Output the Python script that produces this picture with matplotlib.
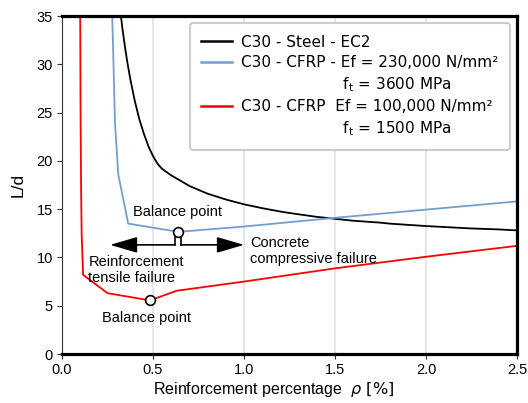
import matplotlib
matplotlib.use("Agg")
import matplotlib.pyplot as plt
from matplotlib.lines import Line2D

# ---- data ----
rho_steel = [0.32, 0.33, 0.34, 0.35, 0.36, 0.375, 0.40, 0.425, 0.45, 0.475, 0.50, 0.525, 0.548,
             0.60, 0.70, 0.80, 0.90, 1.00, 1.10, 1.20, 1.25, 1.40, 1.50, 1.60, 1.75, 1.80,
             2.00, 2.20, 2.25, 2.40, 2.50]
ld_steel = [35.6, 34.0, 32.6, 31.3, 30.1, 28.5, 26.2, 24.3, 22.8, 21.5, 20.5, 19.7, 19.2,
            18.5, 17.4, 16.6, 16.0, 15.5, 15.1, 14.75, 14.6, 14.2, 14.0, 13.8, 13.6, 13.5,
            13.25, 13.05, 13.0, 12.9, 12.8]

rho_cfrp230 = [0.276, 0.283, 0.291, 0.309, 0.364, 0.64, 1.00, 1.50, 2.00, 2.50]
ld_cfrp230 = [35.0, 30.0, 24.0, 18.6, 13.5, 12.65, 13.2, 14.1, 14.95, 15.8]

rho_cfrp100 = [0.100, 0.102, 0.105, 0.108, 0.116, 0.25, 0.484, 0.63, 1.00, 1.50, 2.00, 2.50]
ld_cfrp100 = [35.0, 25.0, 17.0, 12.4, 8.2, 6.3, 5.55, 6.55, 7.5, 8.87, 10.07, 11.2]

balance_rho = [0.64, 0.484]
balance_ld = [12.65, 5.55]

xticks = [0.0, 0.5, 1.0, 1.5, 2.0, 2.5]
yticks = [0, 5, 10, 15, 20, 25, 30, 35]

labels = ["C30 - Steel - EC2",
          "C30 - CFRP - Ef = 230,000 N/mm\u00b2",
          "                     f$_\\mathregular{t}$ = 3600 MPa",
          "C30 - CFRP  Ef = 100,000 N/mm\u00b2",
          "                     f$_\\mathregular{t}$ = 1500 MPa"]

# ---- style ----
plt.rcParams['font.family'] = ['Liberation Sans', 'DejaVu Sans']
plt.rcParams['mathtext.fontset'] = 'dejavusans'

c_black = 'black'
c_blue = '#729fcf'
c_red = '#ff0000'

fig = plt.figure(figsize=(5.28, 4.03), dpi=100)
ax = fig.add_axes([62/528, 1 - 354/403, (517-62)/528, (354-16)/403])

ax.set_xlim(0, 2.5)
ax.set_ylim(0, 35)
ax.set_xticks(xticks)
ax.set_yticks(yticks)
ax.set_xticklabels([f"{v:.1f}" for v in xticks])
ax.set_yticklabels([str(v) for v in yticks])
ax.tick_params(axis='both', labelsize=10.5, length=3.5, width=0.8, color='#333333', pad=3)
ax.xaxis.grid(True, color='#e6e6e6', linewidth=1.5)
ax.set_axisbelow(True)

for s in ['top', 'right', 'bottom']:
    ax.spines[s].set_linewidth(2.3)
    ax.spines[s].set_color('black')
ax.spines['left'].set_linewidth(0.8)
ax.spines['left'].set_color('#333333')

ax.plot(rho_steel, ld_steel, color=c_black, lw=1.3)
ax.plot(rho_cfrp230, ld_cfrp230, color=c_blue, lw=1.3)
ax.plot(rho_cfrp100, ld_cfrp100, color=c_red, lw=1.3)

ax.plot(balance_rho, balance_ld, linestyle='none', marker='o', markersize=7,
        markerfacecolor='white', markeredgecolor='black', markeredgewidth=1.2, zorder=5)

# failure mode arrows below the upper balance point
y_arrow = 11.3
xl, xr = 0.620, 0.655
ax.plot([xl, xl], [y_arrow, 12.2], color='black', lw=1.2)
ax.plot([xr, xr], [y_arrow, 12.2], color='black', lw=1.2)
ax.annotate('', xy=(0.264, y_arrow), xytext=(xl, y_arrow),
            arrowprops=dict(arrowstyle='-|>,head_length=1.2,head_width=0.35',
                            color='black', lw=1.2, shrinkA=0, shrinkB=0, mutation_scale=14))
ax.annotate('', xy=(1.0, y_arrow), xytext=(xr, y_arrow),
            arrowprops=dict(arrowstyle='-|>,head_length=1.2,head_width=0.35',
                            color='black', lw=1.2, shrinkA=0, shrinkB=0, mutation_scale=14))

ax.text(0.632, 14.7, "Balance point", fontsize=10.5, ha='center', va='center')
ax.text(0.467, 3.7, "Balance point", fontsize=10.5, ha='center', va='center')
ax.text(0.145, 8.7, "Reinforcement\ntensile failure", fontsize=10.5, ha='left', va='center')
ax.text(1.033, 10.7, "Concrete\ncompressive failure", fontsize=10.5, ha='left', va='center')

ax.set_xlabel("Reinforcement percentage  $\\rho\\ [\\%]$", fontsize=11.5, labelpad=2, x=0.465)
ax.set_ylabel("L/d", fontsize=12.5, labelpad=8)

handles = [Line2D([], [], color=c_black, lw=1.8),
           Line2D([], [], color=c_blue, lw=1.8),
           Line2D([], [], color='none'),
           Line2D([], [], color=c_red, lw=1.8),
           Line2D([], [], color='none')]
leg = ax.legend(handles, labels, loc='upper right', bbox_to_anchor=(0.985, 0.979),
                borderaxespad=0, frameon=True, fancybox=True,
                prop={'family': 'DejaVu Sans', 'size': 11},
                handlelength=2.0, handletextpad=0.65, labelspacing=0.35,
                borderpad=0.75, framealpha=1)
leg.get_frame().set_edgecolor('#cccccc')
leg.get_frame().set_linewidth(1.5)

fig.savefig("out.png", dpi=100)
